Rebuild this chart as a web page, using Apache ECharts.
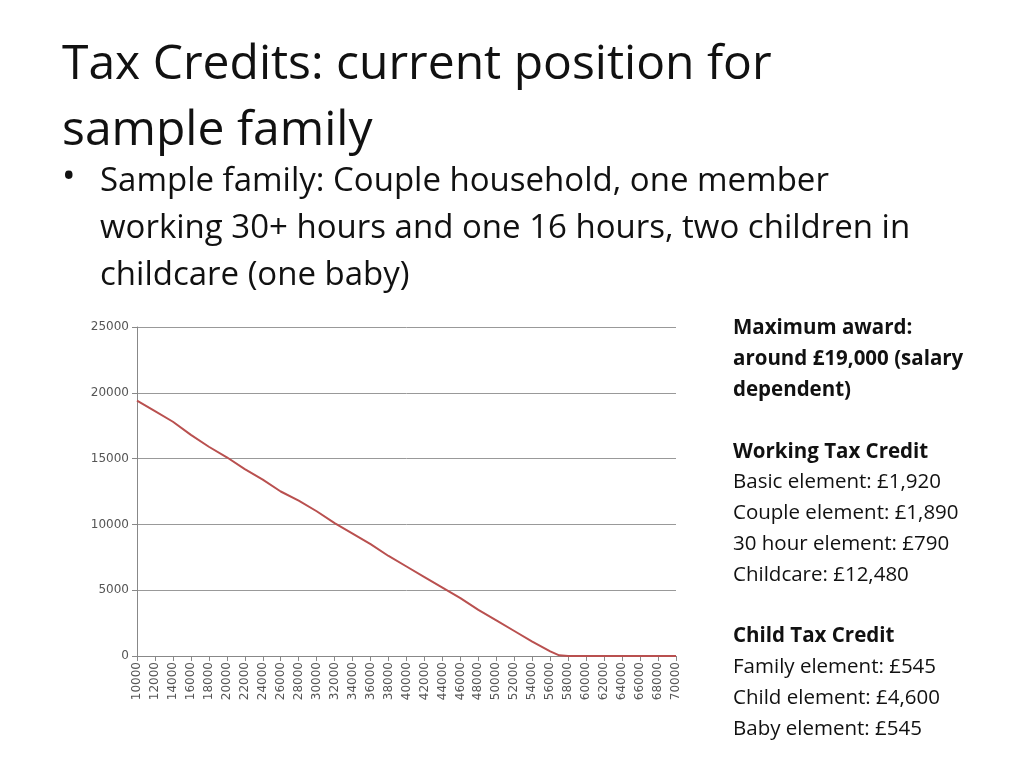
<!DOCTYPE html><html><head><meta charset="utf-8"><script src="https://cdn.jsdelivr.net/npm/echarts@6/dist/echarts.min.js"></script></head><body style="margin:0;background:#fff"><div id="c" style="width:1024px;height:768px"></div><script>
const incomes=[10000,12000,14000,16000,18000,20000,22000,24000,26000,28000,30000,32000,34000,36000,38000,40000,42000,44000,46000,48000,50000,52000,54000,56000,57000,58000,60000,62000,64000,66000,68000,70000];
const award=[19400,18600,17800,16800,15900,15100,14200,13400,12500,11800,11000,10100,9300,8500,7600,6800,6000,5200,4400,3500,2700,1900,1100,350,50,0,0,0,0,0,0,0];
const panel=[["Maximum award:",true],["around £19,000 (salary",true],["dependent)",true],["",false],["Working Tax Credit",true],["Basic element: £1,920",false],["Couple element: £1,890",false],["30 hour element: £790",false],["Childcare: £12,480",false],["",false],["Child Tax Credit",true],["Family element: £545",false],["Child element: £4,600",false],["Baby element: £545",false]];
const F='"Open Sans","Noto Sans",sans-serif';
const g=[
{type:'text',left:62,top:32,style:{text:'Tax Credits: current position for\nsample family',font:'48px '+F,fill:'#111',lineHeight:66}},
{type:'text',left:62,top:160,style:{text:'•',font:'36px '+F,fill:'#111'}},
{type:'text',left:100,top:158,style:{text:'Sample family: Couple household, one member\nworking 30+ hours and one 16 hours, two children in\nchildcare (one baby)',font:'33px '+F,fill:'#111',lineHeight:47}}];
panel.forEach((p,i)=>{if(p[0])g.push({type:'text',left:733,top:318+i*30.8,style:{text:p[0],font:(p[1]?'bold ':'')+'20.5px '+F,fill:'#111'}});});
const ch=echarts.init(document.getElementById('c'));
ch.setOption({animation:false,graphic:g,
grid:{left:137,right:348,top:327,bottom:112},
xAxis:{type:'value',min:10000,max:70000,interval:2000,axisLine:{lineStyle:{color:'#888'}},axisTick:{show:true,lineStyle:{color:'#888'}},splitLine:{show:false},axisLabel:{rotate:90,fontSize:12,color:'#555',fontFamily:'DejaVu Sans',margin:6,formatter:v=>String(v)}},
yAxis:{type:'value',min:0,max:25000,interval:5000,axisLine:{show:true,lineStyle:{color:'#888'}},splitLine:{lineStyle:{color:'#999'}},axisLabel:{fontSize:12,color:'#555',fontFamily:'DejaVu Sans',formatter:v=>String(v)}},
series:[{type:'line',data:incomes.map((x,i)=>[x,award[i]]),showSymbol:false,lineStyle:{color:'#b9504f',width:2}}]});
</script></body></html>
